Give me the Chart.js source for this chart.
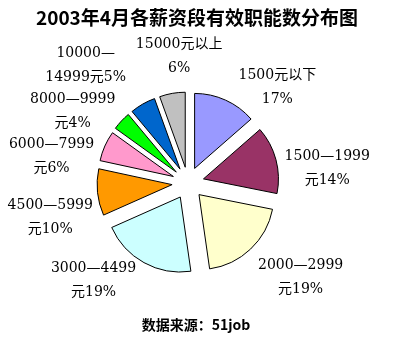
<!DOCTYPE html>
<html>
<head>
<meta charset="utf-8">
<script src="https://cdn.jsdelivr.net/npm/chart.js@4.4.0/dist/chart.umd.min.js"></script>
<style>
  body { margin: 0; background: #fff; }
</style>
</head>
<body>
<canvas id="pieChart" width="400" height="363"></canvas>
<script>
// Salary bands (first label line) and the percent text shown under it
const bands = ['1500元以下', '1500—1999', '2000—2999', '3000—4499', '4500—5999',
               '6000—7999', '8000—9999', '10000—', '15000元以上'];
const bandNotes = ['17%', '元14%', '元19%', '元19%', '元10%', '元6%', '元4%', '14999元5%', '6%'];
// Slice sizes as drawn in the picture
const shares = [13.5, 14.5, 19.5, 20.5, 10, 6.5, 4, 5.5, 5.5];
const sliceColors = ['#9999FF', '#993366', '#FFFFCC', '#CCFFFF', '#FF9900',
                     '#FF99CC', '#00FF00', '#0066CC', '#C0C0C0'];

// where each label sits around the pie: [angle from 12 o'clock in degrees, distance]
const labelAnchors = [[43, 131], [84, 140], [130, 147], [224, 136], [256, 142],
                      [281, 139], [302, 136], [319, 156], [356, 127]];

const titleText = '2003年4月各薪资段有效职能数分布图';
const footerText = '数据来源：51job';

// pull every slice away from the centre (own version: no radius growth on small slices)
const explodePlugin = {
    id: 'explode',
    beforeDatasetDraw(chart, args, opts) {
        const ctx = chart.ctx;
        args.meta.data.forEach(arc => {
            const mid = (arc.startAngle + arc.endAngle) / 2;
            ctx.save();
            ctx.translate(Math.cos(mid) * opts.distance, Math.sin(mid) * opts.distance);
            arc.draw(ctx);
            ctx.restore();
        });
        return false; // we already drew it
    }
};

// title, footer and the outside labels
const textPlugin = {
    id: 'texts',
    afterDatasetsDraw(chart) {
        const ctx = chart.ctx;
        const arc0 = chart.getDatasetMeta(0).data[0];
        ctx.save();
        ctx.fillStyle = '#000';
        ctx.textAlign = 'center';
        ctx.textBaseline = 'middle';

        ctx.font = 'bold 19px "Noto Sans CJK SC"';
        ctx.fillText(titleText, 197, 18);

        ctx.font = 'bold 14px "Noto Sans CJK SC"';
        ctx.fillText(footerText, 196, 325);

        ctx.font = '14px "DejaVu Serif", "Noto Sans CJK SC"';
        bands.forEach((band, i) => {
            const a = labelAnchors[i][0] * Math.PI / 180;
            const d = labelAnchors[i][1];
            const x = arc0.x + Math.sin(a) * d;
            const y = arc0.y - Math.cos(a) * d;
            ctx.fillText(band, x, y - 12);
            ctx.fillText(bandNotes[i], x, y + 12);
        });
        ctx.restore();
    }
};

const ctx = document.getElementById('pieChart').getContext('2d');
new Chart(ctx, {
    type: 'pie',
    data: {
        labels: bands,
        datasets: [{
            data: shares,
            backgroundColor: sliceColors,
            borderColor: '#000',
            borderWidth: 1,
        }],
    },
    options: {
        responsive: false,
        animation: false,
        radius: 75,
        layout: {
            padding: { left: 0, right: 24, top: 20, bottom: 17 },
        },
        events: [],
        plugins: {
            legend: { display: false },
            tooltip: { enabled: false },
            explode: { distance: 16 },
        },
    },
    plugins: [explodePlugin, textPlugin],
});
</script>
</body>
</html>
